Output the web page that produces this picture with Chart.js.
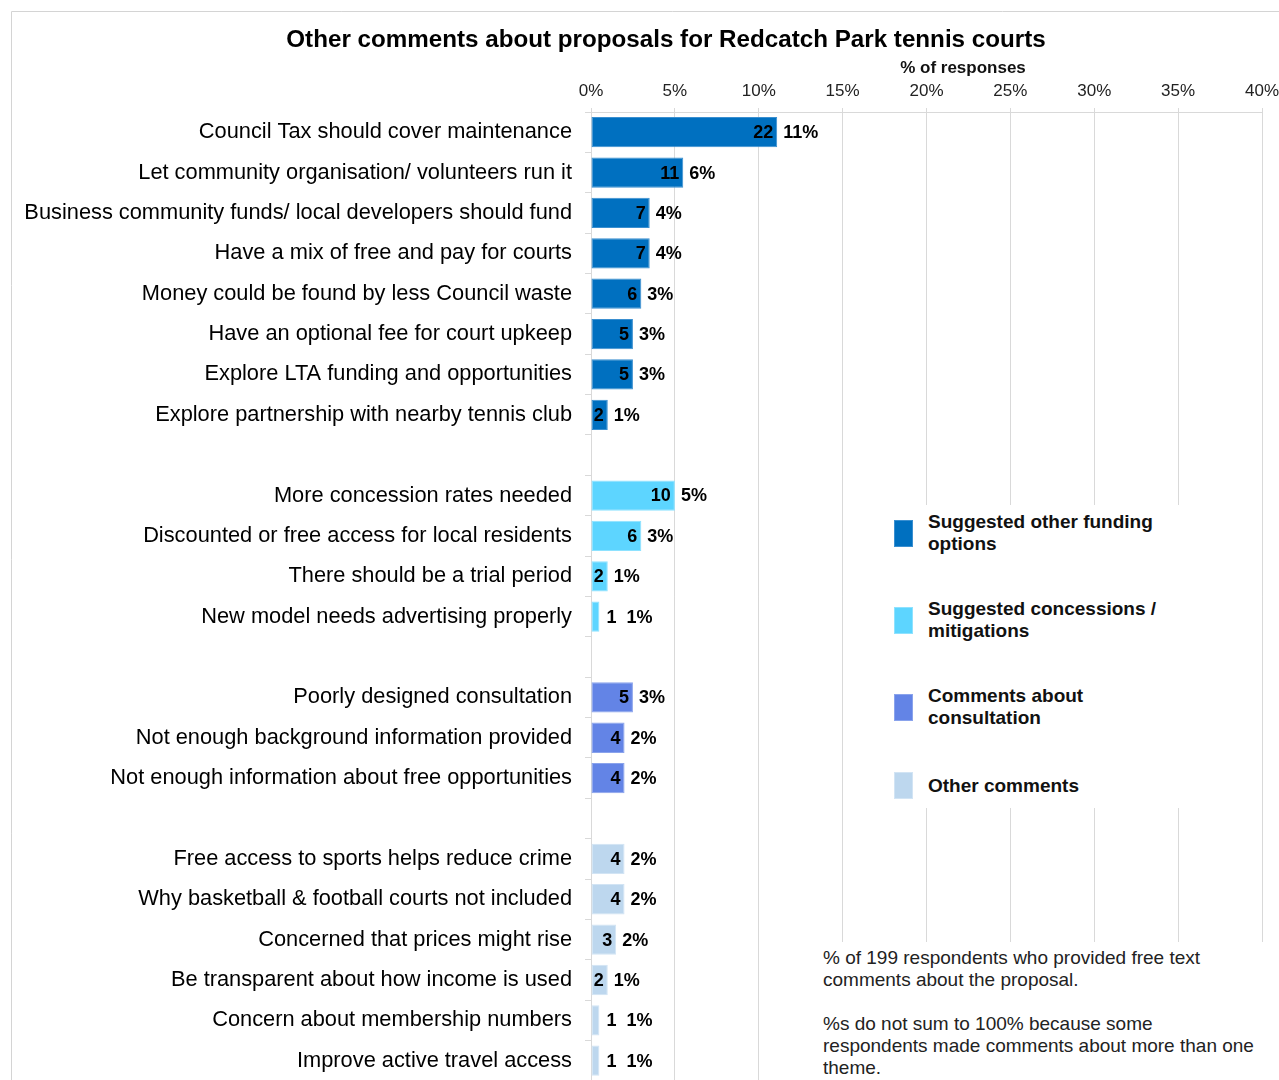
<!DOCTYPE html>
<html>
<head>
<meta charset="utf-8">
<script src="https://cdn.jsdelivr.net/npm/chart.js@4.4.1/dist/chart.umd.min.js"></script>
<style>
  html, body { margin: 0; padding: 0; background: #fff; overflow: hidden; }
  body { width: 1279px; height: 1080px; position: relative; font-family: "Liberation Sans", Arial, sans-serif; }
  #wrap { position: absolute; left: 0; top: 0; width: 1332px; height: 1107px; }
  #legendBox { position: absolute; left: 880px; top: 505px; width: 370px; height: 303px; background: #fff; }
  #legendList { position: absolute; left: 14px; top: 6px; display: flex; flex-direction: column; gap: 43px; }
  .item { display: flex; align-items: center; }
  .swatch { width: 19px; height: 27px; margin-right: 15px; box-sizing: border-box; border: 1px solid; flex: none; }
  .item span { font-weight: bold; font-size: 19px; line-height: 22px; color: #111; width: 245px; }
  #notes { position: absolute; left: 815px; top: 942px; width: 470px; height: 140px; background: #fff; }
  #notes p { margin: 0; position: absolute; left: 8px; font-size: 19px; line-height: 22px; color: #222; }
</style>
</head>
<body>
<div id="wrap"><canvas id="myChart" width="1332" height="1107"></canvas></div>
<div id="legendBox"><div id="legendList"></div></div>
<div id="notes">
  <p style="top:5px">% of 199 respondents who provided free text<br>comments about the proposal.</p>
  <p style="top:71px">%s do not sum to 100% because some<br>respondents made comments about more than one<br>theme.</p>
</div>
<script>
const chartTitle = "Other comments about proposals for Redcatch Park tennis courts";
const axisTitle = "% of responses";

const fundingThemes = [
  "Council Tax should cover maintenance",
  "Let community organisation/ volunteers run it",
  "Business community funds/ local developers should fund",
  "Have a mix of free and pay for courts",
  "Money could be found by less Council waste",
  "Have an optional fee for court upkeep",
  "Explore LTA funding and opportunities",
  "Explore partnership with nearby tennis club",
];
const fundingPct = [11.1, 5.5, 3.5, 3.5, 3.0, 2.5, 2.5, 1.0];
const fundingCounts = [22, 11, 7, 7, 6, 5, 5, 2];
const fundingPctText = ["11%", "6%", "4%", "4%", "3%", "3%", "3%", "1%"];

const concessionThemes = [
  "More concession rates needed",
  "Discounted or free access for local residents",
  "There should be a trial period",
  "New model needs advertising properly",
];
const concessionPct = [5.0, 3.0, 1.0, 0.5];
const concessionCounts = [10, 6, 2, 1];
const concessionPctText = ["5%", "3%", "1%", "1%"];

const consultationThemes = [
  "Poorly designed consultation",
  "Not enough background information provided",
  "Not enough information about free opportunities",
];
const consultationPct = [2.5, 2.0, 2.0];
const consultationCounts = [5, 4, 4];
const consultationPctText = ["3%", "2%", "2%"];

const otherThemes = [
  "Free access to sports helps reduce crime",
  "Why basketball & football courts not included",
  "Concerned that prices might rise",
  "Be transparent about how income is used",
  "Concern about membership numbers",
  "Improve active travel access",
];
const otherPct = [2.0, 2.0, 1.5, 1.0, 0.5, 0.5];
const otherCounts = [4, 4, 3, 2, 1, 1];
const otherPctText = ["2%", "2%", "2%", "1%", "1%", "1%"];

const groupNames = [
  "Suggested other funding options",
  "Suggested concessions / mitigations",
  "Comments about consultation",
  "Other comments",
];
const groupColors = ["#0070C0", "#5DD5FF", "#6384E6", "#BDD7EE"];
const groupBorders = ["#3a8fd0", "#8ee2ff", "#8aa3ec", "#d2e4f4"];

const xTicks = [0, 5, 10, 15, 20, 25, 30, 35, 40];

// categories with an empty row between each group
const groups = [
  { themes: fundingThemes, pct: fundingPct, counts: fundingCounts, text: fundingPctText },
  { themes: concessionThemes, pct: concessionPct, counts: concessionCounts, text: concessionPctText },
  { themes: consultationThemes, pct: consultationPct, counts: consultationCounts, text: consultationPctText },
  { themes: otherThemes, pct: otherPct, counts: otherCounts, text: otherPctText },
];

const labels = [];
const rowGroup = [];
const rowIndex = [];
groups.forEach((g, gi) => {
  if (gi > 0) {
    labels.push("");
    rowGroup.push(-1);
    rowIndex.push(-1);
  }
  g.themes.forEach((t, i) => {
    labels.push(t);
    rowGroup.push(gi);
    rowIndex.push(i);
  });
});

const datasets = groups.map((g, gi) => ({
  label: groupNames[gi],
  data: labels.map((l, r) => (rowGroup[r] === gi ? g.pct[rowIndex[r]] : null)),
  counts: labels.map((l, r) => (rowGroup[r] === gi ? g.counts[rowIndex[r]] : null)),
  pctText: labels.map((l, r) => (rowGroup[r] === gi ? g.text[rowIndex[r]] : null)),
  backgroundColor: groupColors[gi],
  borderColor: groupBorders[gi],
  borderWidth: 1,
  borderSkipped: false,
  barPercentage: 0.75,
  categoryPercentage: 1,
  grouped: false,
}));

const FONT = '"Liberation Sans", Arial, sans-serif';

const extrasPlugin = {
  id: "extras",
  beforeDraw: (chart) => {
    const c = chart.ctx;
    c.save();
    c.strokeStyle = "#d4d4d4";
    c.lineWidth = 1;
    c.beginPath();
    c.moveTo(11.5, 1200);
    c.lineTo(11.5, 11.5);
    c.lineTo(1400, 11.5);
    c.stroke();
    // title, centred on the outer frame
    c.font = "bold 24.2px " + FONT;
    c.fillStyle = "#000";
    c.textAlign = "center";
    c.textBaseline = "middle";
    c.fillText(chartTitle, 666, 40);
    c.restore();
  },
  afterDatasetsDraw: (chart) => {
    const c = chart.ctx;
    c.save();
    c.font = "bold 18px " + FONT;
    c.fillStyle = "#000";
    c.textBaseline = "middle";
    chart.data.datasets.forEach((ds, di) => {
      const meta = chart.getDatasetMeta(di);
      meta.data.forEach((bar, i) => {
        if (ds.data[i] === null) return;
        const count = String(ds.counts[i]);
        const w = c.measureText(count).width;
        const width = bar.x - bar.base;
        let pctX;
        if (width >= w + 5) {
          c.textAlign = "right";
          c.fillText(count, bar.x - 4, bar.y + 1);
          pctX = bar.x + 6;
        } else {
          c.textAlign = "left";
          c.fillText(count, bar.x + 7, bar.y + 1);
          pctX = bar.x + 7 + w + 10;
        }
        c.textAlign = "left";
        c.fillText(ds.pctText[i], pctX, bar.y + 1);
      });
    });
    // axis title
    c.font = "bold 17px " + FONT;
    c.textAlign = "center";
    c.fillStyle = "#111";
    c.fillText(axisTitle, 963, 68);
    c.restore();
  },
};

const ctx = document.querySelector("#myChart");
const myChart = new Chart(ctx, {
  type: "bar",
  data: { labels: labels, datasets: datasets },
  plugins: [extrasPlugin],
  options: {
    indexAxis: "y",
    responsive: false,
    animation: false,
    layout: { padding: { left: 0, right: 70, top: 54, bottom: 0 } },
    plugins: {
      legend: { display: false },
      tooltip: { enabled: false },
      title: { display: false },
    },
    scales: {
      x: {
        position: "top",
        min: 0,
        max: 40,
        afterBuildTicks: (scale) => {
          scale.ticks = xTicks.map((v) => ({ value: v }));
        },
        afterFit: (scale) => {
          scale.height = 58;
        },
        ticks: {
          callback: (v) => v + "%",
          color: "#222",
          font: { family: FONT, size: 17 },
          padding: 6,
          maxRotation: 0,
        },
        grid: { color: "#d9d9d9", tickLength: 4 },
        border: { color: "#d9d9d9" },
      },
      y: {
        afterFit: (scale) => {
          scale.width = 591;
        },
        ticks: {
          color: "#000",
          font: { family: FONT, size: 21.8 },
          padding: 13,
          autoSkip: false,
        },
        grid: { drawOnChartArea: false, drawTicks: true, tickLength: 6, color: "#d9d9d9", offset: true },
        border: { color: "#d9d9d9" },
      },
    },
  },
});

// legend built from the chart datasets
const legendList = document.querySelector("#legendList");
myChart.data.datasets.forEach((ds) => {
  const item = document.createElement("div");
  item.className = "item";
  const sw = document.createElement("div");
  sw.className = "swatch";
  sw.style.background = ds.backgroundColor;
  sw.style.borderColor = ds.borderColor;
  const txt = document.createElement("span");
  txt.textContent = ds.label;
  item.appendChild(sw);
  item.appendChild(txt);
  legendList.appendChild(item);
});
</script>
</body>
</html>
